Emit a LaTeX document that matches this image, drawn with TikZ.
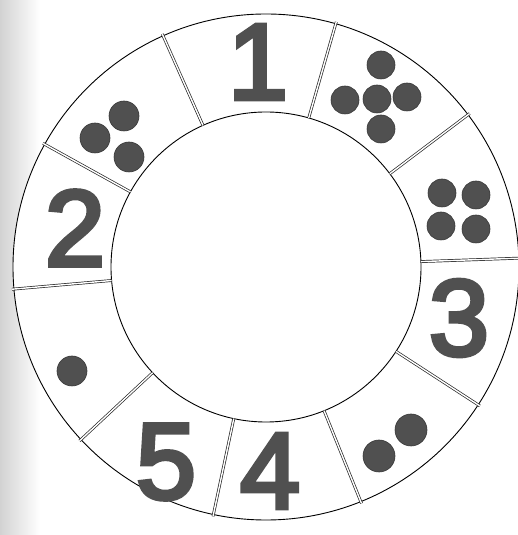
\documentclass[tikz,border=0pt]{standalone}
\usepackage{fontspec}
\setmainfont{Liberation Sans}
\newfontfamily\digitfont[FakeBold=4]{Liberation Sans}
\usepackage{xcolor}
\usetikzlibrary{calc}
\definecolor{ink}{HTML}{505050}

\begin{document}
\begin{tikzpicture}[x=1pt,y=1pt,
    digit/.style={inner sep=0pt,text=ink,font=\digitfont\fontsize{108}{108}\selectfont},
    dot/.style={fill=ink,draw=ink!70!black,line width=0.6pt},
    divider/.style={draw=black!85,line width=0.7pt,double=white,double distance=1.4pt}]
        \def\cx{266}
        \def\cy{268}
        \def\ro{253}
        \def\ri{155}

        \useasboundingbox (0,0) rectangle (518,535);

        % 左端の影
        \shade[left color=gray!35,right color=white] (0,0) rectangle (40,535);

        % --- 円 ---
        \fill[white] (\cx,\cy) circle (\ro);
        \draw[line width=0.9pt] (\cx,\cy) circle (\ro);
        \draw[line width=0.9pt] (\cx,\cy) circle (\ri);

        % --- 区切り線 ---
        \foreach \a in {2,37,74,114,151,185,223,258,292,327}
          \draw[divider] ($(\cx,\cy)+(\a:\ri)$) -- ($(\cx,\cy)+(\a:\ro+2)$);

        % --- 数字 ---
        \node[digit] (n1) at (258,473) {1};
        \node[digit] (n2) at (75,307) {2};
        \node[digit] (n3) at (459,217) {3};
        \node[digit] (n4) at (270,64) {4};
        \node[digit] (n5) at (166,73) {5};

        % --- 点 ---
        % 3
        \fill[dot] (124,419) circle (15);
        \fill[dot] (95,397) circle (15);
        \fill[dot] (129,378) circle (15);
        % 5
        \fill[dot] (381,470) circle (14);
        \fill[dot] (345,435) circle (14);
        \fill[dot] (377,436) circle (14);
        \fill[dot] (407,438) circle (14);
        \fill[dot] (381,406) circle (14);
        % 4
        \fill[dot] (442,342) circle (14);
        \fill[dot] (476,340) circle (14);
        \fill[dot] (441,309) circle (14);
        \fill[dot] (476,306) circle (14);
        % 2
        \fill[dot] (411,105) circle (16);
        \fill[dot] (379,79) circle (16);
        % 1
        \fill[dot] (72,164) circle (15);
      \end{tikzpicture}
\end{document}
